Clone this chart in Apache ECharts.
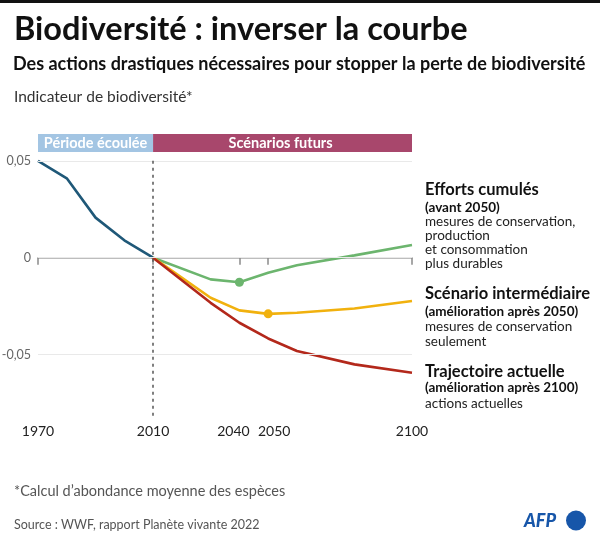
<!DOCTYPE html>
<html><head><meta charset="utf-8">
<script src="https://cdn.jsdelivr.net/npm/echarts@6/dist/echarts.min.js"></script>
<style>html,body{margin:0;padding:0;background:#fff}#c{width:600px;height:545px}</style>
</head><body><div id="c"></div>
<script>
const histYears = [1970, 1980, 1990, 2000, 2010];
const histValues = [0.05, 0.041, 0.0207, 0.009, 0];
const futureYears = [2010, 2030, 2040, 2050, 2060, 2080, 2100];
const effortsValues = [0, -0.0112, -0.0127, -0.0078, -0.0039, 0.0012, 0.0066];
const intermValues = [0, -0.0207, -0.0272, -0.029, -0.0284, -0.0262, -0.0224];
const actuelValues = [0, -0.0233, -0.0336, -0.0417, -0.0482, -0.0551, -0.0594];
const effortsMarkerYear = 2040;
const intermMarkerYear = 2050;
const xTicks = [1970, 2010, 2040, 2050, 2100];
const yTicks = [-0.05, 0, 0.05];
const periodLabels = ['Période écoulée', 'Scénarios futurs'];
const periodBounds = [1970, 2010, 2100];

const FONT = 'Lato';
const chart = echarts.init(document.getElementById('c'), null, {renderer: 'canvas'});

function pts(years, vals, markerYear, color) {
  return years.map((y, i) => {
    const d = {value: [y, vals[i]]};
    if (y === markerYear) {
      d.symbol = 'circle'; d.symbolSize = 9;
      d.itemStyle = {color: color};
    } else {
      d.symbol = 'none';
    }
    return d;
  });
}
const lineS = (name, data, color) => ({
  name, type: 'line', data, showSymbol: true, symbol: 'none', smooth: false,
  lineStyle: {color, width: 2.6}, itemStyle: {color}, z: 3, silent: true, animation: false
});

const option = {
  animation: false,
  grid: {left: 38, right: 188, top: 157, bottom: 129.3, outerBoundsMode: 'none', containLabel: false},
  xAxis: {
    type: 'value', min: 1970, max: 2100,
    axisLine: {show: true, lineStyle: {color: '#a8a8a8', width: 1.5}},
    axisTick: {show: true, customValues: xTicks, length: 7, lineStyle: {color: '#8a8a8a', width: 1.5}},
    axisLabel: {
      customValues: xTicks, color: '#222', fontFamily: FONT, fontSize: 14, margin: 9,
      formatter: v => (v === 2040 ? '{l|2040}' : v === 2050 ? '{r|2050}' : String(v)),
      rich: {
        l: {fontFamily: FONT, fontSize: 14, color: '#222', padding: [0, 12, 0, 0]},
        r: {fontFamily: FONT, fontSize: 14, color: '#222', padding: [0, 0, 0, 12]}
      }
    },
    splitLine: {show: false}
  },
  yAxis: {
    type: 'value', min: -0.0816, max: 0.052,
    axisLine: {show: false}, axisTick: {show: false},
    axisLabel: {customValues: yTicks, color: '#666', fontFamily: FONT, fontSize: 12.5, margin: 7,
      formatter: v => (Math.abs(v) < 1e-9 ? '0' : String(v).replace('.', ','))},
    splitLine: {show: false}
  },
  series: [
    {
      type: 'line', data: [], silent: true,
      markLine: {
        silent: true, symbol: 'none', label: {show: false},
        lineStyle: {color: '#e9e9e9', type: 'solid', width: 1},
        data: yTicks.map(v => ({yAxis: v}))
      }
    },
    {
      type: 'line', data: [], silent: true,
      markLine: {
        silent: true, symbol: 'none', label: {show: false},
        lineStyle: {color: '#555', type: [3, 4], width: 1.5},
        data: [{xAxis: periodBounds[1]}]
      }
    },
    lineS('Historique', histYears.map((y, i) => ({value: [y, histValues[i]], symbol: 'none'})), '#1f5878'),
    lineS('Efforts cumulés', pts(futureYears, effortsValues, effortsMarkerYear, '#6cb56e'), '#6cb56e'),
    lineS('Scénario intermédiaire', pts(futureYears, intermValues, intermMarkerYear, '#f1b10e'), '#f1b10e'),
    lineS('Trajectoire actuelle', futureYears.map((y, i) => ({value: [y, actuelValues[i]], symbol: 'none'})), '#b3281b')
  ]
};
chart.setOption(option);

const px = y => chart.convertToPixel({gridIndex: 0}, [y, 0])[0];
const x0 = px(periodBounds[0]), x1 = px(periodBounds[1]), x2 = px(periodBounds[2]);
const bannerTop = 134, bannerH = 18;

const txt = (text, left, top, size, weight, color, extra) => Object.assign({
  type: 'text', left, top, silent: true,
  style: {text, fontFamily: FONT, fontSize: size, fontWeight: weight, fill: color}
}, extra || {});

const legend = [
  ['Efforts cumulés', 181, 16.5, 'bold', '#111'],
  ['(avant 2050)', 201, 13.5, 'bold', '#111'],
  ['mesures de conservation,', 215, 13.5, 'normal', '#222'],
  ['production', 229, 13.5, 'normal', '#222'],
  ['et consommation', 243, 13.5, 'normal', '#222'],
  ['plus durables', 257, 13.5, 'normal', '#222'],
  ['Scénario intermédiaire', 285, 16.5, 'bold', '#111'],
  ['(amélioration après 2050)', 305, 13.5, 'bold', '#111'],
  ['mesures de conservation', 320, 13.5, 'normal', '#222'],
  ['seulement', 335, 13.5, 'normal', '#222'],
  ['Trajectoire actuelle', 363, 16.5, 'bold', '#111'],
  ['(amélioration après 2100)', 381, 13.5, 'bold', '#111'],
  ['actions actuelles', 397, 13.5, 'normal', '#222']
];

const graphics = [
  {type: 'rect', shape: {x: 0, y: 0, width: 600, height: 3}, style: {fill: '#111'}, silent: true},
  txt('Biodiversité : inverser la courbe', 14, 13, 32.5, 'bold', '#111'),
  txt('Des actions drastiques nécessaires pour stopper la perte de biodiversité', 13, 55, 18, 'bold', '#111'),
  txt('Indicateur de biodiversité*', 14, 89, 15.5, 'normal', '#333'),
  {type: 'rect', shape: {x: x0, y: bannerTop, width: x1 - x0, height: bannerH}, style: {fill: '#a3c5e3'}, silent: true},
  {type: 'rect', shape: {x: x1, y: bannerTop, width: x2 - x1, height: bannerH}, style: {fill: '#a8476c'}, silent: true},
  {type: 'text', silent: true, x: (x0 + x1) / 2, y: bannerTop + bannerH / 2,
    style: {text: periodLabels[0], fontFamily: FONT, fontSize: 14.5, fontWeight: 'bold', fill: '#fff', align: 'center', verticalAlign: 'middle'}},
  {type: 'text', silent: true, x: (x1 + x2) / 2 - 2, y: bannerTop + bannerH / 2,
    style: {text: periodLabels[1], fontFamily: FONT, fontSize: 14.5, fontWeight: 'bold', fill: '#fff', align: 'center', verticalAlign: 'middle'}},
  txt('*Calcul d\u2019abondance moyenne des espèces', 14, 484, 14.5, 'normal', '#555'),
  txt('Source : WWF, rapport Planète vivante 2022', 14, 518, 12.5, 'normal', '#555'),
  {type: 'text', silent: true, x: 524, y: 521,
    style: {text: 'AFP', fontFamily: FONT, fontSize: 18, fontWeight: 900, fontStyle: 'italic', fill: '#1756a9', verticalAlign: 'middle'}},
  {type: 'circle', silent: true, shape: {cx: 576, cy: 520.5, r: 10}, style: {fill: '#1756a9'}}
];
legend.forEach(l => graphics.push(txt(l[0], 425, l[1], l[2], l[3], l[4])));
chart.setOption({graphic: graphics});
</script>
</body></html>
